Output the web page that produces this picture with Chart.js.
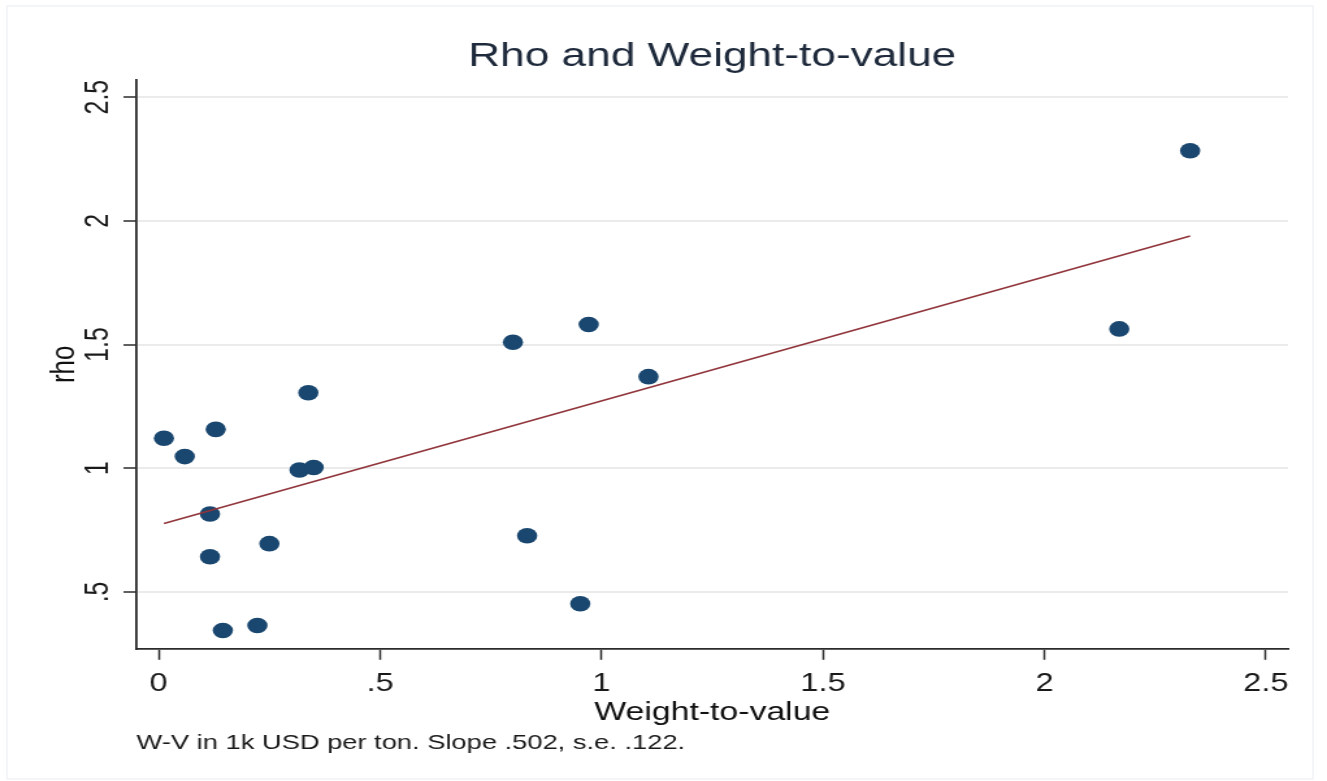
<!DOCTYPE html>
<html>
<head>
<meta charset="utf-8">
<title>Rho and Weight-to-value</title>
<script src="https://cdn.jsdelivr.net/npm/chart.js@4.4.1/dist/chart.umd.min.js"></script>
<style>
    html, body { margin: 0; padding: 0; background: #fff; }
    #wrap { position: relative; width: 1327px; height: 781px; overflow: hidden; }
    #frame { position: absolute; left: 6px; top: 5px; width: 1304px; height: 771px; border: 2px solid #f3f5f8; pointer-events: none; }
</style>
</head>
<body>
<div id="wrap">
    <!-- the reference is stretched sideways, so the canvas is drawn narrow and widened by its inline style -->
    <canvas id="chart" width="1021" height="781" style="display:block;width:1327px;height:781px"></canvas>
    <div id="frame"></div>
</div>
<script>
// scatter points
const weightToValue = [0.012, 0.059, 0.129, 0.116, 0.116, 0.145, 0.223, 0.250, 0.318, 0.350, 0.338, 0.800, 0.971, 0.832, 0.952, 1.106, 2.169, 2.329];
const rho = [1.121, 1.047, 1.157, 0.815, 0.642, 0.344, 0.364, 0.695, 0.993, 1.003, 1.305, 1.509, 1.581, 0.727, 0.452, 1.370, 1.563, 2.283];

// fitted line end points
const fitX = [0.012, 2.329];
const fitY = [0.776, 1.939];

const xTicks = [0, 0.5, 1, 1.5, 2, 2.5];
const xTickLabels = ['0', '.5', '1', '1.5', '2', '2.5'];
const yTicks = [0.5, 1, 1.5, 2, 2.5];
const yTickLabels = ['.5', '1', '1.5', '2', '2.5'];

const FONT = "'Liberation Sans', Arial, Helvetica, sans-serif";
const AXIS = '#2b2b2b';

const points = weightToValue.map((x, i) => ({ x: x, y: rho[i] }));
const fitLine = fitX.map((x, i) => ({ x: x, y: fitY[i] }));

new Chart(document.getElementById('chart').getContext('2d'), {
    type: 'scatter',
    data: {
        datasets: [
            {
                label: 'rho',
                data: points,
                backgroundColor: '#1a476f',
                borderColor: '#1a476f',
                pointRadius: 7.8,
                pointBorderWidth: 0,
                order: 2
            },
            {
                label: 'Fitted values',
                type: 'line',
                data: fitLine,
                borderColor: '#90353b',
                borderWidth: 1.6,
                pointRadius: 0,
                fill: false,
                order: 1
            }
        ]
    },
    options: {
        responsive: false,
        animation: false,
        layout: {
            padding: { left: 0, right: 30, top: 0, bottom: 0 }
        },
        plugins: {
            legend: { display: false },
            tooltip: { enabled: false },
            title: {
                display: true,
                text: 'Rho and Weight-to-value',
                fullSize: false,
                color: '#1e2a3b',
                font: { family: FONT, size: 34, weight: 'normal' },
                padding: { top: 36, bottom: 3 }
            },
            subtitle: {
                display: true,
                position: 'bottom',
                align: 'start',
                fullSize: false,
                text: 'W-V in 1k USD per ton. Slope .502, s.e. .122.',
                color: '#1a1a1a',
                font: { family: FONT, size: 21, weight: 'normal' },
                padding: { top: 0, bottom: 25 }
            }
        },
        scales: {
            x: {
                type: 'linear',
                min: -0.05,
                max: 2.55,
                afterBuildTicks: (scale) => {
                    scale.ticks = xTicks.map(v => ({ value: v }));
                },
                afterFit: (scale) => { scale.height = 82; },
                ticks: {
                    color: '#1a1a1a',
                    font: { family: FONT, size: 25 },
                    padding: 9,
                    maxRotation: 0,
                    autoSkip: false,
                    callback: (value, index) => xTickLabels[index]
                },
                grid: {
                    drawOnChartArea: false,
                    drawTicks: true,
                    tickLength: 11,
                    tickColor: AXIS,
                    tickWidth: 1.5
                },
                border: { display: true, color: AXIS, width: 1.8 },
                title: {
                    display: true,
                    text: 'Weight-to-value',
                    color: '#111',
                    font: { family: FONT, size: 26 },
                    padding: { top: 0, bottom: 2 }
                }
            },
            y: {
                type: 'linear',
                min: 0.27,
                max: 2.57,
                afterBuildTicks: (scale) => {
                    scale.ticks = yTicks.map(v => ({ value: v }));
                },
                afterFit: (scale) => { scale.width = 105; },
                ticks: {
                    color: '#1a1a1a',
                    font: { family: FONT, size: 25 },
                    minRotation: 90,
                    maxRotation: 90,
                    crossAlign: 'center',
                    padding: 2,
                    autoSkip: false,
                    callback: (value, index) => yTickLabels[index]
                },
                grid: {
                    color: '#ebebeb',
                    lineWidth: 2,
                    drawTicks: true,
                    tickLength: 10,
                    tickColor: AXIS,
                    tickWidth: 1.5
                },
                border: { display: true, color: AXIS, width: 1.8 },
                title: {
                    display: true,
                    text: 'rho',
                    color: '#111',
                    font: { family: FONT, size: 26 },
                    padding: { top: 34, bottom: 0 }
                }
            }
        }
    }
});
</script>
</body>
</html>
